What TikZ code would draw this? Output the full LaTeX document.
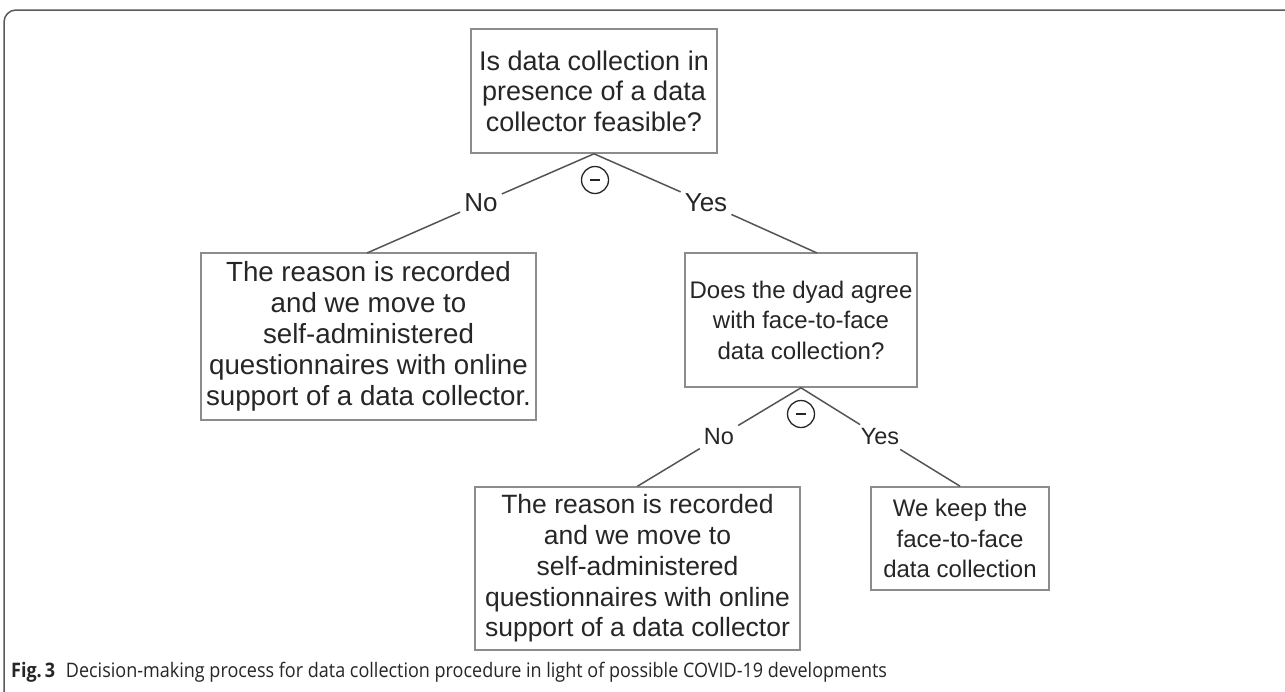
\documentclass[tikz,border=0pt]{standalone}
\usepackage{fontspec}
\usepackage{graphicx}
\usetikzlibrary{calc}
\setmainfont{Liberation Sans}
\newfontfamily\capfont{Open Sans}
\definecolor{txt}{HTML}{262626}
\definecolor{boxgray}{HTML}{8C8C8C}
\definecolor{linegray}{HTML}{555555}
\definecolor{framegray}{HTML}{5A5A5A}
\begin{document}
\begin{tikzpicture}[x=1pt,y=-1pt,
  box/.style={draw=boxgray, line width=1.6pt, fill=white, inner sep=0pt, align=center, text=txt},
  bigf/.style={font=\fontsize{27}{30.5}\selectfont},
  b2f/.style={font=\fontsize{27.7}{31}\selectfont},
  midf/.style={font=\fontsize{26.5}{30.8}\selectfont},
  smlf/.style={font=\fontsize{24}{30.5}\selectfont},
  lbl/.style={inner sep=4pt, text=txt},
  conn/.style={draw=linegray, line width=1.5pt},
  minus/.style={draw=txt, circle, line width=1.3pt, minimum size=27pt, inner sep=0pt}]
\useasboundingbox (0,0) rectangle (1285,691);
\fill[white] (0,0) rectangle (1285,691);
% outer frame
\draw[framegray, line width=1.5pt, rounded corners=12pt] (1290,10) -- (4,10) -- (4,696);
% boxes
\node[box, bigf, minimum width=246pt, minimum height=124pt] (b1) at (594,91)
  {Is data collection in\\presence of a data\\collector feasible?};
\node[box, b2f, minimum width=335pt, minimum height=167pt] (b2) at (368.5,336.5)
  {The reason is recorded\\and we move to\\self-administered\\questionnaires with online\\support of a data collector.};
\node[box, smlf, minimum width=232pt, minimum height=134pt] (b3) at (801,320)
  {Does the dyad agree\\with face-to-face\\data collection?};
\node[box, midf, minimum width=325pt, minimum height=163pt] (b4) at (637.5,568.5)
  {The reason is recorded\\and we move to\\self-administered\\questionnaires with online\\support of a data collector};
\node[box, smlf, minimum width=178pt, minimum height=103pt] (b5) at (960,538.5)
  {We keep the\\face-to-face\\data collection};
% connector end points on box tops
\coordinate (t2) at (367,253);
\coordinate (t3) at (817,253);
% labels
\node[lbl, font=\fontsize{26}{30}\selectfont] (no1) at (481,203) {No};
\node[lbl, font=\fontsize{26}{30}\selectfont] (yes1) at (706,203) {Yes};
\node[lbl, font=\fontsize{23.5}{28}\selectfont] (no2) at (719,437) {No};
\node[lbl, font=\fontsize{23.5}{28}\selectfont] (yes2) at (880,437) {Yes};
% minus circles
\node[minus] (m1) at (595,180) {};
\node[minus] (m2) at (801,414) {};
\draw[txt, line width=1.5pt] ($(m1.center)+(-5,0)$) -- ($(m1.center)+(5,0)$);
\draw[txt, line width=1.5pt] ($(m2.center)+(-5,0)$) -- ($(m2.center)+(5,0)$);
% connectors
\draw[conn] (b1.south) -- (no1);
\draw[conn] (no1) -- (t2);
\draw[conn] (b1.south) -- (yes1);
\draw[conn] (yes1) -- (t3);
\draw[conn] (b3.south) -- (no2);
\draw[conn] (no2) -- (b4.north);
\draw[conn] (b3.south) -- (yes2);
\draw[conn] (yes2) -- (b5.north);
% caption
\node[anchor=base west, inner sep=0pt, text=txt, font=\capfont\fontsize{20}{24}\selectfont] (cap) at (11,677)
  {\scalebox{0.9}[1]{\textbf{Fig.\,3}\hspace{0.6em}Decision-making process for data collection procedure in light of possible COVID-19 developments}};
\end{tikzpicture}
\end{document}
